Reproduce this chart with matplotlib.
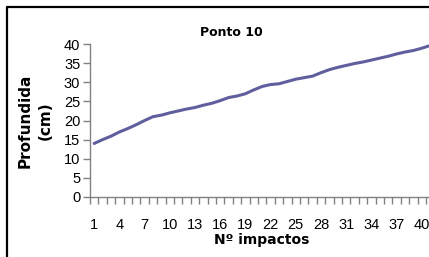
import numpy as np
import matplotlib
matplotlib.use('Agg')
from matplotlib import pyplot as plt
from matplotlib.lines import Line2D

# impact number vs depth (cm)
impactos = list(range(1, 43))
profundidade = [14.0, 15.0, 15.9, 17.0, 17.9, 18.9, 20.0, 21.0, 21.4, 22.0,
                22.5, 23.0, 23.4, 24.0, 24.5, 25.2, 26.0, 26.4, 27.0, 28.0,
                28.9, 29.4, 29.6, 30.2, 30.8, 31.2, 31.6, 32.5, 33.3, 33.9,
                34.4, 34.9, 35.3, 35.8, 36.3, 36.8, 37.4, 37.9, 38.3, 38.9,
                39.6, 40.2]
x_ticks = list(range(1, 41, 3))
y_ticks = list(range(0, 41, 5))

W, H = 429, 257
fig = plt.figure(figsize=(W / 100, H / 100), dpi=100)
fig.patch.set_facecolor('white')

# outer frame: only the left and top edges are visible in the original
fx, fy = 6.5 / W, 1 - 6.5 / H
fig.lines.append(Line2D([fx, fx, 1.0], [0.0, fy, fy],
                        transform=fig.transFigure, color='black',
                        linewidth=1.6, solid_capstyle='butt'))

cat_w = 8.4
ax = fig.add_axes([90 / W, (H - 197) / H, 42 * cat_w / W, 153 / H])
ax.plot(impactos, profundidade, color='#5f5f9e', linewidth=2.2,
        solid_capstyle='round')

ax.set_xlim(0.5, 42.5)
ax.set_ylim(0, 40)
for s in ['top', 'right']:
    ax.spines[s].set_visible(False)
for s in ['left', 'bottom']:
    ax.spines[s].set_color('#808080')
    ax.spines[s].set_linewidth(1.0)

ax.set_xticks(x_ticks)
ax.set_xticklabels([str(v) for v in x_ticks])
ax.set_xticks(np.arange(0.5, 43, 1.0), minor=True)
ax.tick_params(axis='x', which='major', length=0, pad=15)
ax.tick_params(axis='x', which='minor', length=5, color='#808080',
               direction='out', width=1.0)
ax.set_yticks(y_ticks)
ax.tick_params(axis='y', length=5, color='#808080', width=1.0, pad=2)
for lab in ax.get_xticklabels() + ax.get_yticklabels():
    lab.set_fontfamily('Liberation Sans')
    lab.set_fontsize(10.5)

fig.text(231 / W, 1 - 33 / H, 'Ponto 10', ha='center', va='center',
         fontsize=9, fontweight='bold', family='DejaVu Sans')
fig.text(35 / W, 1 - 121 / H, 'Profundida\n(cm)', ha='center',
         va='center', rotation=90, fontsize=11, fontweight='bold',
         family='DejaVu Sans', linespacing=1.4)
fig.text(262 / W, 1 - 240 / H, 'Nº impactos', ha='center', va='center',
         fontsize=10, fontweight='bold', family='DejaVu Sans')

fig.savefig('out.png', dpi=100)
